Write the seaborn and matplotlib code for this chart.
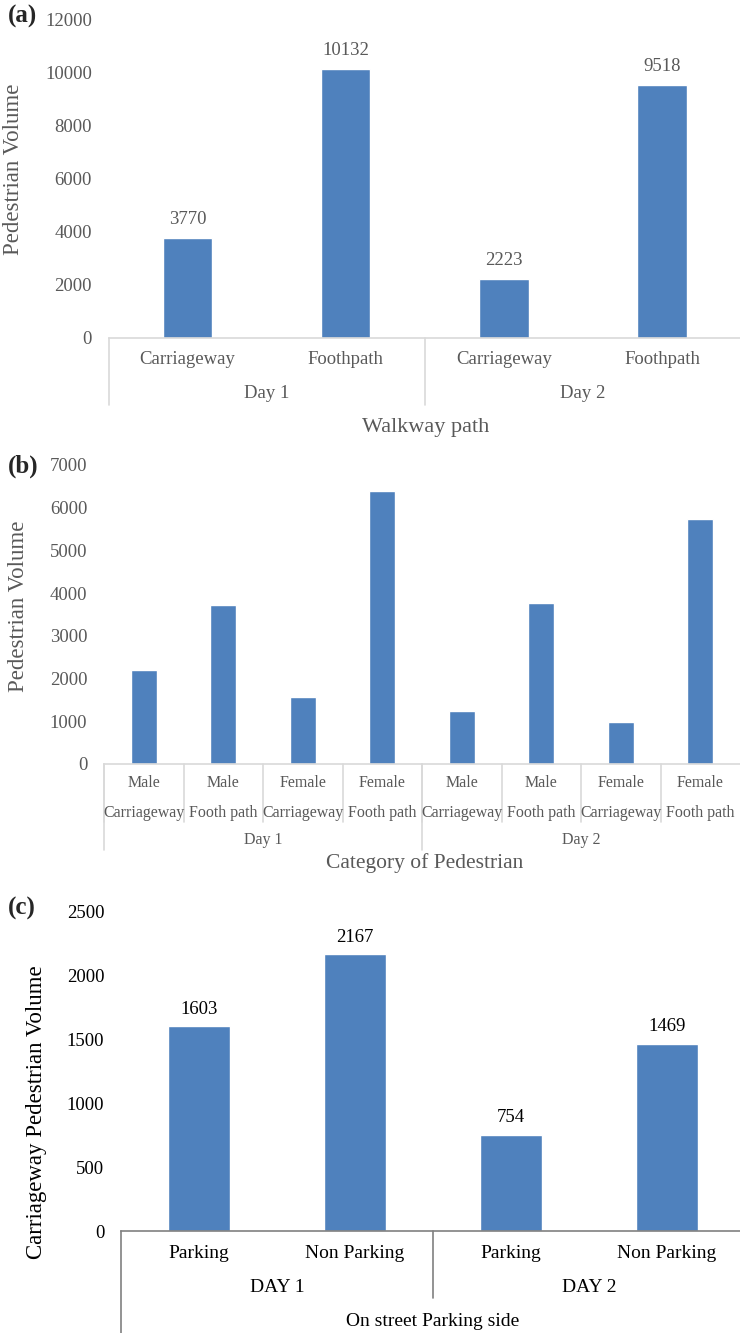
import numpy as np
import pandas as pd
import matplotlib
matplotlib.use("Agg")
import matplotlib.pyplot as plt
import matplotlib.transforms as mtransforms
import seaborn as sns

# Data
days = ["Day 1", "Day 2"]
walkway_paths = ["Carriageway", "Foothpath"]
walkway_volume = [3770, 10132, 2223, 9518]

ped_gender = ["Male", "Male", "Female", "Female"]
ped_path = ["Carriageway", "Footh path", "Carriageway", "Footh path"]
ped_volume = [2197, 3730, 1573, 6402, 1240, 3775, 983, 5743]

parking_days = ["DAY 1", "DAY 2"]
parking_sides = ["Parking", "Non Parking"]
parking_volume = [1603, 2167, 754, 1469]

W, H = 740, 1333
BLUE = "#4f81bd"
GREY_TXT = "#595959"

sns.set_style("white")
plt.rcParams["font.family"] = ["Liberation Serif", "DejaVu Serif"]

fig = plt.figure(figsize=(W / 100, H / 100), dpi=100)


def frame(left, right, top, bottom):
    return fig.add_axes([left / W, 1 - bottom / H, (right - left) / W, (bottom - top) / H])


def fy(p):
    return 1 - p / H


def bars(ax, values, width, ymax, step, tcolor, spine_color, tick_size, pad):
    keys = [f"k{i}" for i in range(len(values))]
    df = pd.DataFrame({"key": keys, "value": values})
    sns.barplot(data=df, x="key", y="value", order=keys, color=BLUE,
                saturation=1, width=width, ax=ax)
    ax.set_ylim(0, ymax)
    ax.set_yticks(np.arange(0, ymax + 1, step))
    ax.set_xticks([])
    ax.set_xlabel("")
    ax.set_ylabel("")
    for s in ["top", "right", "left"]:
        ax.spines[s].set_visible(False)
    ax.spines["bottom"].set_color(spine_color)
    ax.spines["bottom"].set_linewidth(1.2)
    ax.tick_params(axis="y", length=0, labelsize=tick_size, labelcolor=tcolor, pad=pad)
    ax.patch.set_alpha(0)
    return ax


def vline(ax, x, y0, y1, color):
    tr = mtransforms.blended_transform_factory(ax.transData, fig.transFigure)
    ax.plot([x, x], [fy(y0), fy(y1)], transform=tr, color=color, lw=1.2,
            clip_on=False, scalex=False, scaley=False)


def label(ax, x, y, s, size, color):
    tr = mtransforms.blended_transform_factory(ax.transData, fig.transFigure)
    ax.text(x, fy(y), s, transform=tr, ha="center", va="center", fontsize=size, color=color)


# (a) walkway path
ax1 = bars(frame(108.5, 741, 19, 338), walkway_volume, 0.313, 12000, 2000,
           GREY_TXT, "#d9d9d9", 13.5, 12)
ax1.bar_label(ax1.containers[0], padding=7, fontsize=13.5, color=GREY_TXT)
for i in range(4):
    label(ax1, i, 360, walkway_paths[i % 2], 13.5, GREY_TXT)
for d, day in enumerate(days):
    label(ax1, d * 2 + 0.5, 394, day, 13.5, GREY_TXT)
    vline(ax1, d * 2 - 0.5, 338, 405, "#d9d9d9")
ax1.set_xlim(-0.5, 3.5)
fig.text(426 / W, fy(428), "Walkway path", ha="center", va="center",
         fontsize=16, color=GREY_TXT)
fig.text(14 / W, fy(169), "Pedestrian Volume", rotation=90, ha="center", va="center",
         fontsize=16.5, color=GREY_TXT)
fig.text(8 / W, fy(16), "(a)", ha="left", va="center", fontsize=18, fontweight="bold")

# (b) category of pedestrian
ax2 = bars(frame(104, 740, 465, 764), ped_volume, 0.33, 7000, 1000,
           GREY_TXT, "#d9d9d9", 13.5, 12)
for i in range(8):
    label(ax2, i, 783, ped_gender[i % 4], 11.5, GREY_TXT)
    label(ax2, i, 813, ped_path[i % 4], 11.5, GREY_TXT)
    vline(ax2, i - 0.5, 764, 822, "#d9d9d9")
for d, day in enumerate(days):
    label(ax2, d * 4 + 1.5, 840, day, 11.5, GREY_TXT)
    vline(ax2, d * 4 - 0.5, 764, 850, "#d9d9d9")
ax2.set_xlim(-0.5, 7.5)
fig.text(425 / W, fy(863), "Category of Pedestrian", ha="center", va="center",
         fontsize=15.5, color=GREY_TXT)
fig.text(19 / W, fy(606), "Pedestrian Volume", rotation=90, ha="center", va="center",
         fontsize=16.5, color=GREY_TXT)
fig.text(8 / W, fy(466), "(b)", ha="left", va="center", fontsize=18, fontweight="bold")

# (c) on street parking side
ax3 = bars(frame(121, 745, 912, 1231), parking_volume, 0.40, 2500, 500,
           "black", "#808080", 13.5, 12)
ax3.bar_label(ax3.containers[0], padding=6, fontsize=13.5, color="black")
for i in range(4):
    label(ax3, i, 1253, parking_sides[i % 2], 14, "black")
for d, day in enumerate(parking_days):
    label(ax3, d * 2 + 0.5, 1287, day, 14, "black")
vline(ax3, -0.5, 1231, 1340, "#808080")
vline(ax3, 1.5, 1231, 1298, "#808080")
ax3.set_xlim(-0.5, 3.5)
fig.text(433 / W, fy(1322), "On street Parking side", ha="center", va="center",
         fontsize=14, color="black")
fig.text(37 / W, fy(1112), "Carriageway Pedestrian Volume", rotation=90, ha="center",
         va="center", fontsize=16.5, color="black")
fig.text(8 / W, fy(908), "(c)", ha="left", va="center", fontsize=18, fontweight="bold")

fig.savefig("out.png", dpi=100)
